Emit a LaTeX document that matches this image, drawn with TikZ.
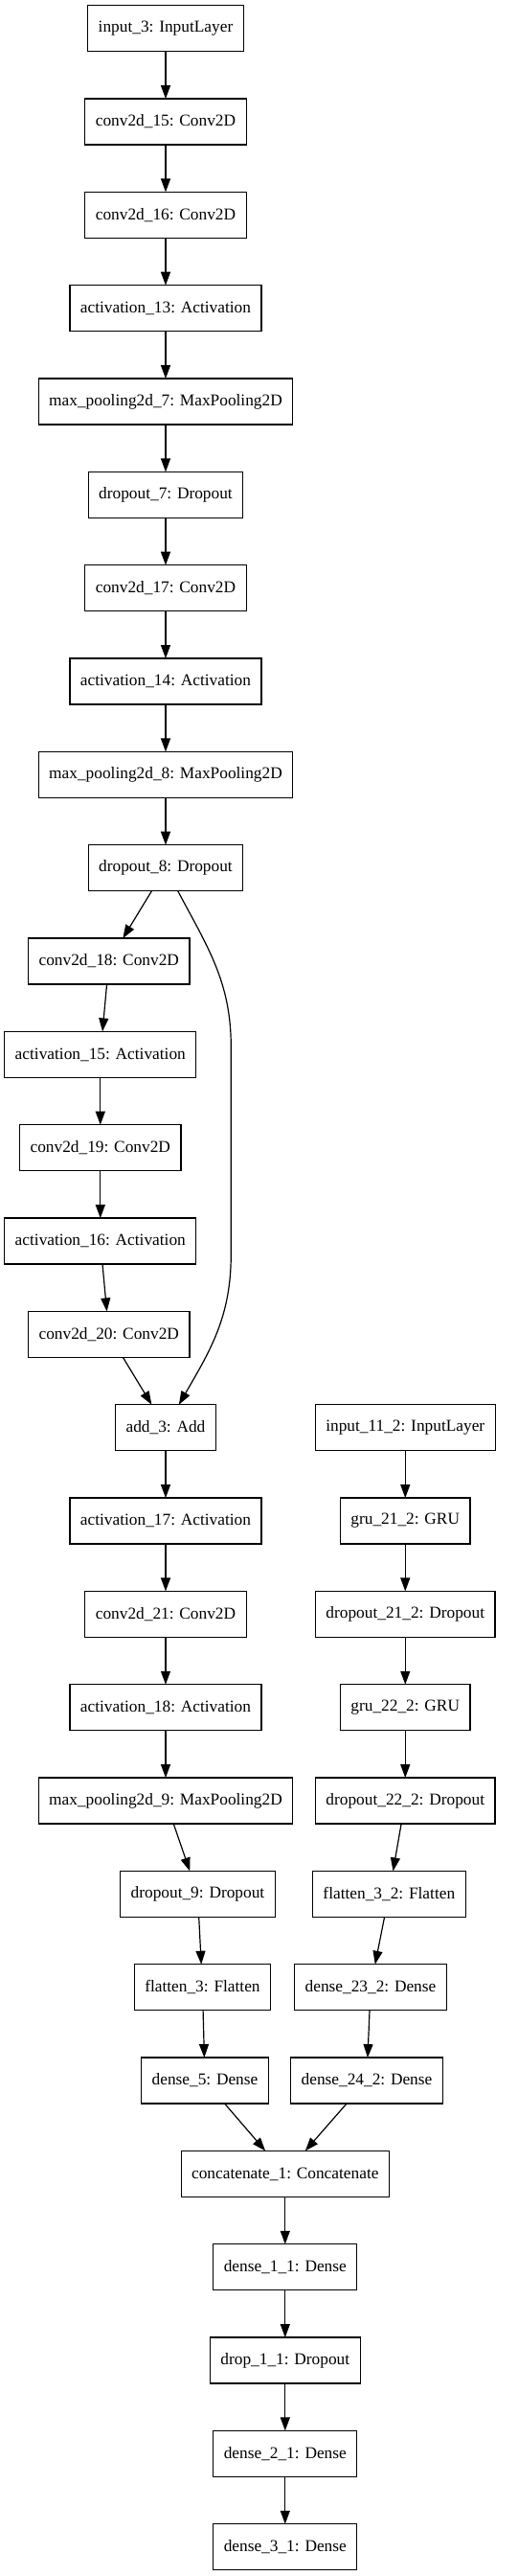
\documentclass[tikz,border=0pt]{standalone}
\usepackage{fontspec}
\setmainfont{Liberation Serif}
\usepackage{tikz}
\usetikzlibrary{positioning, arrows.meta}

\begin{document}
\begin{tikzpicture}[
  node distance=73pt, on grid,
  every node/.style={rectangle, draw, line width=0.9pt, minimum height=36pt,
    inner xsep=8.25pt, outer sep=0pt, font=\fontsize{13pt}{15pt}\selectfont},
  arr/.style={-{Triangle[length=10.5pt, width=7.5pt]}, line width=0.9pt},
]
  \useasboundingbox (-129.75pt,22.3pt) rectangle (276pt,-1993.7pt);

  % image branch
  \node (inp3) {input\_3: InputLayer};
  \node (conv15) [below=of inp3]   {conv2d\_15: Conv2D};
  \node (conv16) [below=of conv15] {conv2d\_16: Conv2D};
  \node (act13)  [below=of conv16] {activation\_13: Activation};
  \node (pool7)  [below=of act13]  {max\_pooling2d\_7: MaxPooling2D};
  \node (drop7)  [below=of pool7]  {dropout\_7: Dropout};
  \node (conv17) [below=of drop7]  {conv2d\_17: Conv2D};
  \node (act14)  [below=of conv17] {activation\_14: Activation};
  \node (pool8)  [below=of act14]  {max\_pooling2d\_8: MaxPooling2D};
  \node (drop8)  [below=of pool8]  {dropout\_8: Dropout};
  \node (conv18) [below=of drop8, xshift=-44.4pt]  {conv2d\_18: Conv2D};
  \node (act15)  [below=of conv18, xshift=-6.75pt] {activation\_15: Activation};
  \node (conv19) [below=of act15]  {conv2d\_19: Conv2D};
  \node (act16)  [below=of conv19] {activation\_16: Activation};
  \node (conv20) [below=of act16, xshift=6.75pt]   {conv2d\_20: Conv2D};
  \node (add3)   [below=of conv20, xshift=44.4pt]  {add\_3: Add};
  \node (act17)  [below=of add3]   {activation\_17: Activation};
  \node (conv21) [below=of act17]  {conv2d\_21: Conv2D};
  \node (act18)  [below=of conv21] {activation\_18: Activation};
  \node (pool9)  [below=of act18]  {max\_pooling2d\_9: MaxPooling2D};
  \node (drop9)  [below=of pool9, xshift=25.1pt]  {dropout\_9: Dropout};
  \node (flat3)  [below=of drop9, xshift=3.75pt]  {flatten\_3: Flatten};
  \node (dense5) [below=of flat3, xshift=1.9pt]   {dense\_5: Dense};

  % sequence branch
  \node (inp112)   [right=187.7pt of add3] {input\_11\_2: InputLayer};
  \node (gru212)   [below=of inp112]  {gru\_21\_2: GRU};
  \node (drop212)  [below=of gru212]  {dropout\_21\_2: Dropout};
  \node (gru222)   [below=of drop212] {gru\_22\_2: GRU};
  \node (drop222)  [below=of gru222]  {dropout\_22\_2: Dropout};
  \node (flat32)   [below=of drop222, xshift=-12.7pt] {flatten\_3\_2: Flatten};
  \node (dense232) [below=of flat32, xshift=-14.5pt]  {dense\_23\_2: Dense};
  \node (dense242) [below=of dense232, xshift=-3pt]   {dense\_24\_2: Dense};

  % head
  \node (concat1) [below=of dense5, xshift=62.85pt] {concatenate\_1: Concatenate};
  \node (dense11) [below=of concat1] {dense\_1\_1: Dense};
  \node (drop11)  [below=of dense11] {drop\_1\_1: Dropout};
  \node (dense21) [below=of drop11]  {dense\_2\_1: Dense};
  \node (dense31) [below=of dense21] {dense\_3\_1: Dense};

  % skip connection
  \coordinate (skipa) at ([shift={(51.2pt,-139.5pt)}]drop8.center);
  \coordinate (skipb) at ([shift={(51.2pt,135pt)}]add3.center);

  \draw[arr] (inp3) -- (conv15);
  \draw[arr] (conv15) -- (conv16);
  \draw[arr] (conv16) -- (act13);
  \draw[arr] (act13) -- (pool7);
  \draw[arr] (pool7) -- (drop7);
  \draw[arr] (drop7) -- (conv17);
  \draw[arr] (conv17) -- (act14);
  \draw[arr] (act14) -- (pool8);
  \draw[arr] (pool8) -- (drop8);
  \draw[arr] (drop8) -- (conv18);
  \draw[arr] (conv18) -- (act15);
  \draw[arr] (act15) -- (conv19);
  \draw[arr] (conv19) -- (act16);
  \draw[arr] (act16) -- (conv20);
  \draw[arr] (conv20) -- (add3);
  \draw[arr] (drop8) to[out=-62, in=90] (skipa) -- (skipb) to[out=-90, in=60] (add3);
  \draw[arr] (add3) -- (act17);
  \draw[arr] (act17) -- (conv21);
  \draw[arr] (conv21) -- (act18);
  \draw[arr] (act18) -- (pool9);
  \draw[arr] (pool9) -- (drop9);
  \draw[arr] (drop9) -- (flat3);
  \draw[arr] (flat3) -- (dense5);
  \draw[arr] (inp112) -- (gru212);
  \draw[arr] (gru212) -- (drop212);
  \draw[arr] (drop212) -- (gru222);
  \draw[arr] (gru222) -- (drop222);
  \draw[arr] (drop222) -- (flat32);
  \draw[arr] (flat32) -- (dense232);
  \draw[arr] (dense232) -- (dense242);
  \draw[arr] (dense5) -- (concat1);
  \draw[arr] (dense242) -- (concat1);
  \draw[arr] (concat1) -- (dense11);
  \draw[arr] (dense11) -- (drop11);
  \draw[arr] (drop11) -- (dense21);
  \draw[arr] (dense21) -- (dense31);
\end{tikzpicture}
\end{document}
